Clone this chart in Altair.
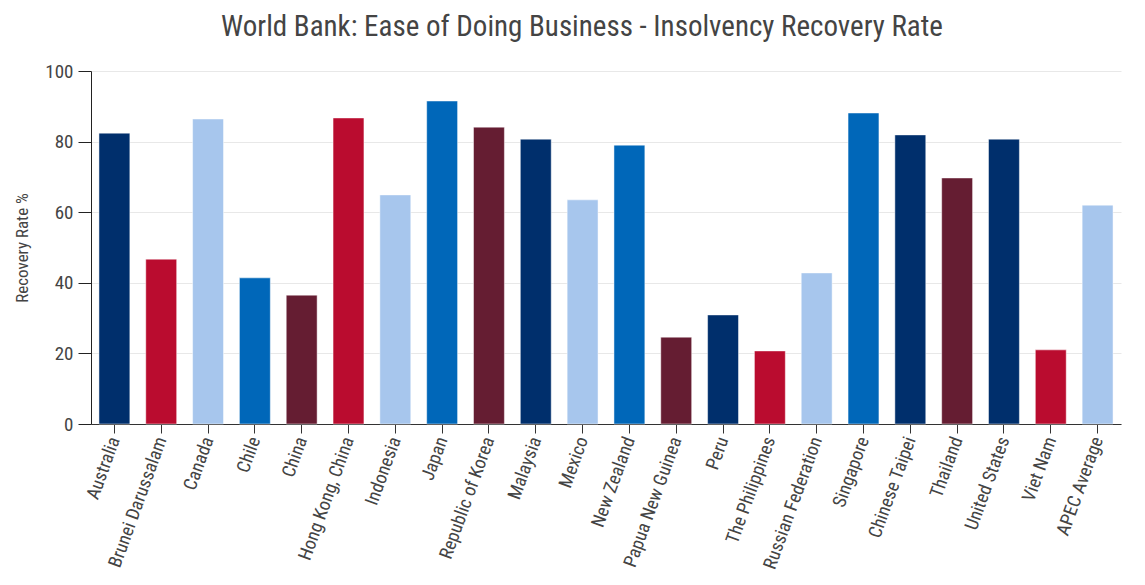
import altair as alt
import pandas as pd

countries = ["Australia", "Brunei Darussalam", "Canada", "Chile", "China",
             "Hong Kong, China", "Indonesia", "Japan", "Republic of Korea",
             "Malaysia", "Mexico", "New Zealand", "Papua New Guinea", "Peru",
             "The Philippines", "Russian Federation", "Singapore",
             "Chinese Taipei", "Thailand", "United States", "Viet Nam",
             "APEC Average"]
values = [82.4, 46.7, 86.4, 41.4, 36.5, 86.7, 64.9, 91.5, 84.1, 80.7, 63.5,
          79.0, 24.6, 30.9, 20.7, 42.8, 88.1, 81.9, 69.7, 80.7, 21.0, 62.0]
colors = ["#002F6C", "#BA0C2F", "#A7C6ED", "#0067B9", "#651D32",
          "#BA0C2F", "#A7C6ED", "#0067B9", "#651D32", "#002F6C",
          "#A7C6ED", "#0067B9", "#651D32", "#002F6C", "#BA0C2F",
          "#A7C6ED", "#0067B9", "#002F6C", "#651D32", "#002F6C",
          "#BA0C2F", "#A7C6ED"]

df = pd.DataFrame({"country": countries, "value": values, "color": colors})

FONT = "Roboto Condensed, Liberation Sans Narrow, Roboto, sans-serif"

chart = alt.Chart(df).mark_bar(stroke="#ffffff", strokeWidth=0.8, strokeOpacity=0.6).encode(
    x=alt.X("country:N", sort=countries, title=None,
            scale=alt.Scale(paddingInner=0.34, paddingOuter=0.17),
            axis=alt.Axis(labelAngle=-70, labelFontSize=18.5, labelColor="#444444",
                          labelFont=FONT, domainColor="#333333", tickColor="#333333",
                          tickSize=9, labelPadding=4)),
    y=alt.Y("value:Q", title="Recovery Rate %",
            scale=alt.Scale(domain=[0, 100]),
            axis=alt.Axis(values=[0, 20, 40, 60, 80, 100], labelFontSize=19,
                          labelColor="#444444", labelFont=FONT,
                          titleFont=FONT, titleFontSize=17, titleFontWeight="normal",
                          titleColor="#444444", domainColor="#222222",
                          tickColor="#222222", tickSize=13, gridColor="#e8e8e8",
                          labelPadding=5, titlePadding=13)),
    color=alt.Color("color:N", scale=None),
).properties(
    width=1030, height=353,
    title=alt.TitleParams("World Bank: Ease of Doing Business - Insolvency Recovery Rate",
                          font=FONT, fontSize=29, fontWeight="normal", color="#444444",
                          offset=20, anchor="middle", dx=-24)
).configure_view(stroke=None)

chart.save("out.html", embed_options={"renderer": "svg", "actions": False})
